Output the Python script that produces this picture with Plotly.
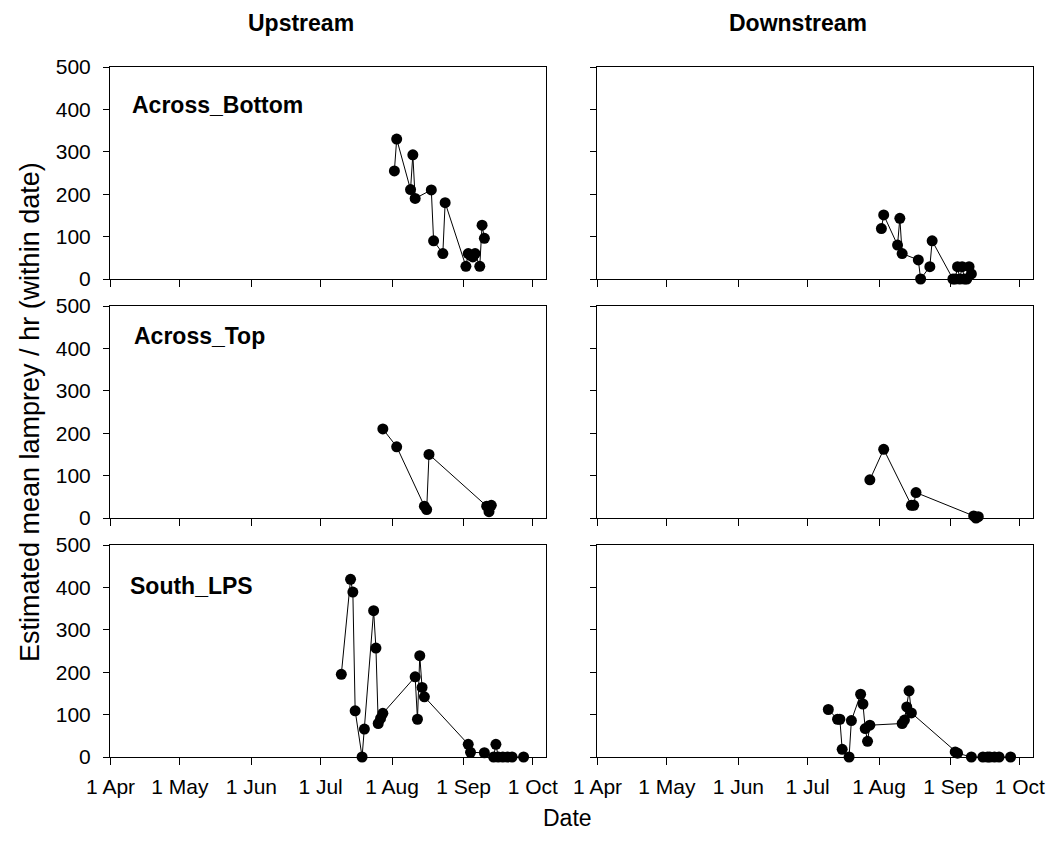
import plotly.graph_objects as go

# Sampling dates and estimated mean lamprey per hour, by location and side
ab_up_dates = ["2010-08-02", "2010-08-03", "2010-08-09", "2010-08-10", "2010-08-11",
               "2010-08-18", "2010-08-19", "2010-08-23", "2010-08-24", "2010-09-02",
               "2010-09-03", "2010-09-04", "2010-09-05", "2010-09-06", "2010-09-08",
               "2010-09-09", "2010-09-10"]
ab_up_vals = [255, 330, 211, 293, 190, 210, 90, 60, 180, 30, 60, 56, 52, 60, 30, 127, 96]

ab_dn_dates = ["2010-08-02", "2010-08-03", "2010-08-09", "2010-08-10", "2010-08-11",
               "2010-08-18", "2010-08-19", "2010-08-23", "2010-08-24", "2010-09-02",
               "2010-09-03", "2010-09-04", "2010-09-05", "2010-09-06", "2010-09-07",
               "2010-09-08", "2010-09-09", "2010-09-10"]
ab_dn_vals = [119, 151, 80, 143, 60, 45, 0, 29, 90, 0, 0, 29, 0, 29, 0, 0, 29, 12]

at_up_dates = ["2010-07-28", "2010-08-03", "2010-08-15", "2010-08-16", "2010-08-17",
               "2010-09-11", "2010-09-12", "2010-09-13"]
at_up_vals = [210, 168, 28, 20, 150, 28, 15, 30]

at_dn_dates = ["2010-07-28", "2010-08-03", "2010-08-15", "2010-08-16", "2010-08-17",
               "2010-09-11", "2010-09-12", "2010-09-13"]
at_dn_vals = [90, 162, 30, 30, 60, 5, 0, 3]

sl_up_dates = ["2010-07-10", "2010-07-14", "2010-07-15", "2010-07-16", "2010-07-19",
               "2010-07-20", "2010-07-24", "2010-07-25", "2010-07-26", "2010-07-27",
               "2010-07-28", "2010-08-11", "2010-08-12", "2010-08-13", "2010-08-14",
               "2010-08-15", "2010-09-03", "2010-09-04", "2010-09-10", "2010-09-14",
               "2010-09-15", "2010-09-16", "2010-09-18", "2010-09-20", "2010-09-22",
               "2010-09-27"]
sl_up_vals = [195, 419, 389, 109, 0, 66, 345, 257, 79, 91, 103, 189, 89, 239, 164,
              142, 30, 11, 10, 0, 30, 0, 0, 0, 0, 0]

sl_dn_dates = ["2010-07-10", "2010-07-14", "2010-07-15", "2010-07-16", "2010-07-19",
               "2010-07-20", "2010-07-24", "2010-07-25", "2010-07-26", "2010-07-27",
               "2010-07-28", "2010-08-11", "2010-08-12", "2010-08-13", "2010-08-14",
               "2010-08-15", "2010-09-03", "2010-09-04", "2010-09-10", "2010-09-15",
               "2010-09-17", "2010-09-18", "2010-09-20", "2010-09-22", "2010-09-27"]
sl_dn_vals = [112, 89, 89, 18, 0, 86, 148, 125, 67, 37, 75, 79, 87, 118, 156, 104,
              12, 9, 0, 0, 0, 0, 0, 0, 0]

month_ticks = ["2010-04-01", "2010-05-01", "2010-06-01", "2010-07-01",
               "2010-08-01", "2010-09-01", "2010-10-01"]
month_labels = ["1 Apr", "1 May", "1 Jun", "1 Jul", "1 Aug", "1 Sep", "1 Oct"]
y_ticks = [0, 100, 200, 300, 400, 500]

panel_names = ["Across_Bottom", "Across_Top", "South_LPS"]
series = [
    [(ab_up_dates, ab_up_vals), (ab_dn_dates, ab_dn_vals)],
    [(at_up_dates, at_up_vals), (at_dn_dates, at_dn_vals)],
    [(sl_up_dates, sl_up_vals), (sl_dn_dates, sl_dn_vals)],
]

W, H = 1055, 857
FONT = "Liberation Sans, Arial, sans-serif"

col_px = [(110, 546), (597, 1033)]
row_px = [(67, 279), (306, 518), (545, 757)]

fig = go.Figure()
layout = {}
n = 0
for r in range(3):
    for c in range(2):
        n += 1
        xa = "xaxis" if n == 1 else f"xaxis{n}"
        ya = "yaxis" if n == 1 else f"yaxis{n}"
        xref = "x" if n == 1 else f"x{n}"
        yref = "y" if n == 1 else f"y{n}"
        dates, vals = series[r][c]
        fig.add_trace(go.Scatter(
            x=dates, y=vals, xaxis=xref, yaxis=yref, mode="lines+markers",
            line=dict(color="black", width=1),
            marker=dict(color="black", size=11),
            cliponaxis=False, showlegend=False, hoverinfo="x+y"))
        x0, x1 = col_px[c]
        y0, y1 = row_px[r]
        layout[xa] = dict(
            domain=[x0 / W, x1 / W], anchor=yref,
            type="date", range=["2010-03-31 18:00", "2010-10-06 17:00"],
            tickmode="array", tickvals=month_ticks,
            ticktext=month_labels if r == 2 else [""] * len(month_ticks),
            showticklabels=(r == 2), automargin=False,
            ticks="outside", ticklen=7, tickcolor="black", tickwidth=1,
            ticklabelstandoff=4,
            showline=True, linecolor="black", linewidth=1, mirror=True,
            showgrid=False, zeroline=False,
            tickfont=dict(family=FONT, size=21, color="black"))
        layout[ya] = dict(
            domain=[1 - y1 / H, 1 - y0 / H], anchor=xref,
            range=[0, 500], tickmode="array", tickvals=y_ticks,
            showticklabels=(c == 0), automargin=False,
            ticks="outside", ticklen=6, tickcolor="black", tickwidth=1,
            ticklabelstandoff=8,
            showline=True, linecolor="black", linewidth=1, mirror=True,
            showgrid=False, zeroline=False,
            tickfont=dict(family=FONT, size=21, color="black"))

annotations = [
    dict(text="<b>Upstream</b>", x=301 / W, y=1 - 23 / H, font=dict(size=23)),
    dict(text="<b>Downstream</b>", x=798 / W, y=1 - 23 / H, font=dict(size=23)),
    dict(text="Date", x=567 / W, y=1 - 818 / H, font=dict(size=23)),
    dict(text="Estimated mean lamprey / hr (within date)", x=30 / W, y=1 - 412 / H,
         textangle=-90, font=dict(size=27)),
]
label_pos = [(130, 105), (132, 336), (128, 586)]
for name, (lx, ly) in zip(panel_names, label_pos):
    annotations.append(dict(text=f"<b>{name}</b>", x=lx / W, y=1 - ly / H,
                            xanchor="left", font=dict(size=23)))
for a in annotations:
    a.update(xref="paper", yref="paper", showarrow=False)
    a.setdefault("xanchor", "center")
    a["yanchor"] = "middle"
    a["font"].update(family=FONT, color="black")

fig.update_layout(
    width=W, height=H,
    margin=dict(l=0, r=0, t=0, b=0, pad=0, autoexpand=False),
    paper_bgcolor="white", plot_bgcolor="white",
    annotations=annotations, **layout)

fig.write_html("out.html")
